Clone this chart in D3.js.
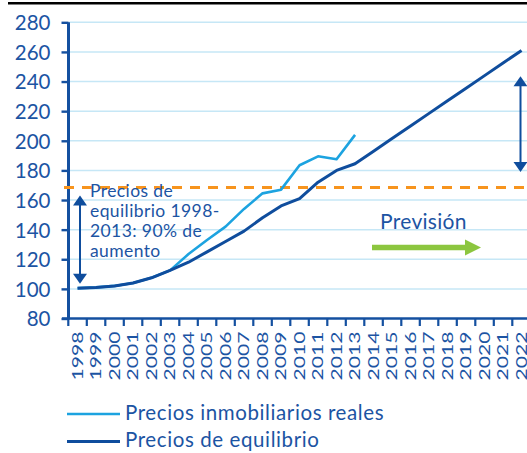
<!DOCTYPE html>
<html>
<head>
<meta charset="utf-8">
<script src="https://cdn.jsdelivr.net/npm/d3@7"></script>
<style>
  html, body { margin: 0; padding: 0; background: #fff; }
  svg { display: block; font-family: Lato, "Open Sans", sans-serif; }
</style>
</head>
<body>
<svg id="chart" width="527" height="453"></svg>
<script>
// Years on the category axis
const years = ["1998","1999","2000","2001","2002","2003","2004","2005","2006","2007","2008","2009",
  "2010","2011","2012","2013","2014","2015","2016","2017","2018","2019","2020","2021","2022"];

// Real house prices (index 1998 = 100), observed through 2013
const realYears = ["1998","1999","2000","2001","2002","2003","2004","2005","2006","2007","2008",
  "2009","2010","2011","2012","2013"];
const realPrices = [100.5, 101, 102, 104, 107.5, 112.5, 123.5, 133, 142, 154, 164.5,
  167, 183.5, 189.5, 187.5, 204];

// Equilibrium prices, observed and forecast to 2022
const equilibriumPrices = [100.5, 101, 102, 104, 107.5, 112.5, 118, 125, 132, 139, 148, 156,
  161, 172, 180, 184.5, 193, 201.5, 210, 218.5, 227, 235.5, 244, 252.5, 261];

const yTicks = [80, 100, 120, 140, 160, 180, 200, 220, 240, 260, 280];

// Reference level and annotation spans (index units)
const thresholdLevel = 168.5;
const leftSpan = [103.5, 163];
const rightSpan = [179, 243.5];

const legendLabels = ["Precios inmobiliarios reales", "Precios de equilibrio"];
const noteLines = ["Precios de", "equilibrio 1998-", "2013: 90% de", "aumento"];
const forecastLabel = "Previsión";

const C = {
  text: "#1c54a3",
  axis: "#1450a0",
  dark: "#0f4d9d",
  light: "#1ca3e0",
  grid: "#c6e7f6",
  orange: "#f7941d",
  green: "#8cc63f"
};

const svg = d3.select("#chart");

const x = d3.scaleBand().domain(years).range([68.3, 68.3 + 25 * 18.5]).padding(0);
const y = d3.scaleLinear().domain([80, 280]).range([318.5, 22.3]);
const xc = d => x(d) + x.bandwidth() / 2;

// top rule
svg.append("line").attr("x1", 8).attr("x2", 527).attr("y1", 3.2).attr("y2", 3.2)
  .attr("stroke", "#000").attr("stroke-width", 2.6);

// gridlines
svg.append("g").selectAll("line").data(yTicks.filter(d => d > 80)).join("line")
  .attr("x1", 69).attr("x2", 527)
  .attr("y1", d => y(d)).attr("y2", d => y(d))
  .attr("stroke", C.grid).attr("stroke-width", 1.5);

// y axis
const yAxis = svg.append("g").attr("transform", "translate(68.5,0)")
  .call(d3.axisLeft(y).tickValues(yTicks).tickSize(7).tickPadding(11).tickFormat(d3.format("d")));
yAxis.select(".domain").attr("stroke", C.axis).attr("stroke-width", 3).attr("d", `M0,${y(280)}V${y(80) + 1}`);
yAxis.selectAll(".tick line").attr("stroke", C.axis).attr("stroke-width", 2.4);
yAxis.selectAll(".tick text").attr("fill", C.text).attr("font-size", 20.5)
  .attr("font-family", "Lato, sans-serif").attr("dy", "0.36em");

// x axis
const xAxis = svg.append("g").attr("transform", `translate(0,${y(80)})`)
  .call(d3.axisBottom(x).tickSize(0).tickPadding(0));
xAxis.select(".domain").attr("stroke", C.axis).attr("stroke-width", 2.6).attr("d", "M62,0H527");
// ticks on the band boundaries
xAxis.append("g").selectAll("line").data(d3.range(0, 25)).join("line")
  .attr("x1", i => x(years[i])).attr("x2", i => x(years[i]))
  .attr("y1", 0).attr("y2", 7.5)
  .attr("stroke", C.axis).attr("stroke-width", 2.2);
xAxis.selectAll(".tick text")
  .attr("fill", C.text).attr("font-size", 14.5).attr("font-family", "Lato, sans-serif")
  .attr("text-anchor", "end")
  .attr("transform", "translate(5.3,13) rotate(-90)")
  .attr("x", 0).attr("y", 0).attr("dy", 0)
  .attr("textLength", 49).attr("lengthAdjust", "spacingAndGlyphs");

// dashed reference level
svg.append("line").attr("x1", 64).attr("x2", 527)
  .attr("y1", y(thresholdLevel)).attr("y2", y(thresholdLevel))
  .attr("stroke", C.orange).attr("stroke-width", 3).attr("stroke-dasharray", "10,8");

// series
const line = d3.line().x(d => xc(d[0])).y(d => y(d[1]));
svg.append("path").datum(realYears.map((yr, i) => [yr, realPrices[i]]))
  .attr("d", line).attr("fill", "none").attr("stroke", C.light)
  .attr("stroke-width", 2.6).attr("stroke-linejoin", "round");
svg.append("path").datum(years.map((yr, i) => [yr, equilibriumPrices[i]]))
  .attr("d", line).attr("fill", "none").attr("stroke", C.dark)
  .attr("stroke-width", 3).attr("stroke-linejoin", "round");

// double-headed arrows
function doubleArrow(cx, v0, v1) {
  const yb = y(v0), yt = y(v1), hw = 7, hl = 10;
  const g = svg.append("g").attr("fill", C.dark);
  g.append("line").attr("x1", cx).attr("x2", cx).attr("y1", yt + hl - 1).attr("y2", yb - hl + 1)
    .attr("stroke", C.dark).attr("stroke-width", 2);
  g.append("path").attr("d", `M${cx},${yt}L${cx + hw},${yt + hl}L${cx - hw},${yt + hl}Z`);
  g.append("path").attr("d", `M${cx},${yb}L${cx + hw},${yb - hl}L${cx - hw},${yb - hl}Z`);
}
doubleArrow(80, leftSpan[0], leftSpan[1]);
doubleArrow(520.5, rightSpan[0], rightSpan[1]);

// annotation text
svg.append("text").attr("x", 90).attr("y", 197)
  .attr("fill", C.text).attr("font-size", 17.5).attr("letter-spacing", 0.4)
  .selectAll("tspan").data(noteLines).join("tspan")
  .attr("x", 90).attr("dy", (d, i) => i === 0 ? 0 : 20.1).text(d => d);

// forecast label and arrow
svg.append("text").attr("x", 380).attr("y", 229)
  .attr("fill", C.text).attr("font-size", 21).attr("letter-spacing", 0.3).text(forecastLabel);
svg.append("line").attr("x1", 372).attr("x2", 466).attr("y1", 247.5).attr("y2", 247.5)
  .attr("stroke", C.green).attr("stroke-width", 5.5);
svg.append("path").attr("d", "M481,247.5L465,239.5L465,255.5Z").attr("fill", C.green);

// legend
const legend = svg.append("g");
[[C.light, 414, 420], [C.dark, 441.5, 447]].forEach(([col, ly, ty], i) => {
  legend.append("line").attr("x1", 67).attr("x2", 120).attr("y1", ly).attr("y2", ly)
    .attr("stroke", col).attr("stroke-width", i === 0 ? 2.6 : 3);
  legend.append("text").attr("x", 125).attr("y", ty)
    .attr("fill", C.text).attr("font-size", 20.5).attr("letter-spacing", 0.6).text(legendLabels[i]);
});
</script>
</body>
</html>
